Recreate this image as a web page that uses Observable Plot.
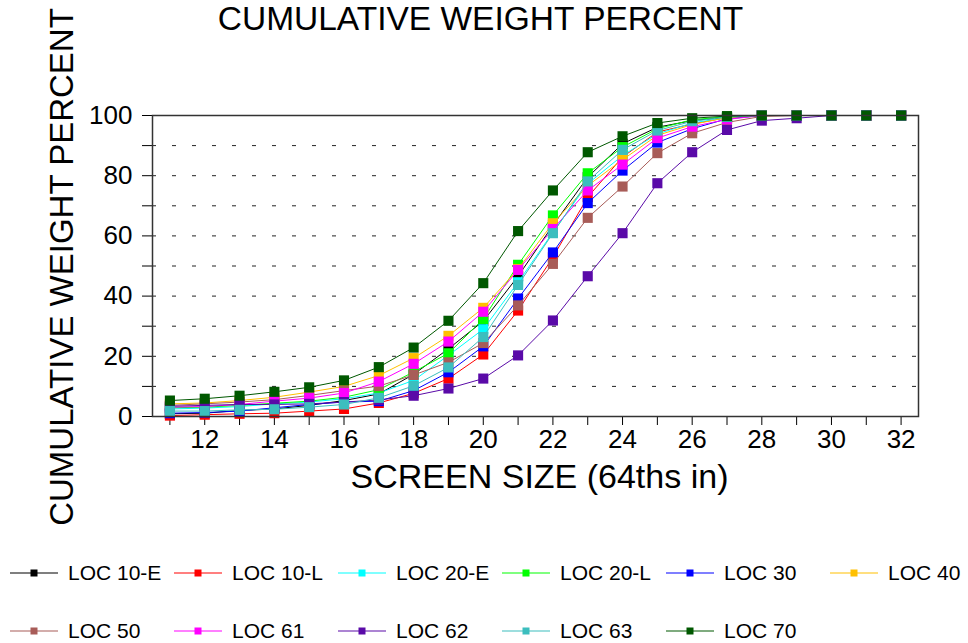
<!DOCTYPE html>
<html>
<head>
<meta charset="utf-8">
<script src="https://cdn.jsdelivr.net/npm/d3@7"></script>
<script src="https://cdn.jsdelivr.net/npm/@observablehq/plot@0.6"></script>
<style>
  html, body { margin: 0; padding: 0; background: white; }
  #wrap { position: relative; width: 968px; height: 643px; overflow: hidden; font-family: "Liberation Sans", Arial, sans-serif; }
  #legend { position: absolute; left: 0; top: 520px; width: 968px; height: 123px; }
  .item { position: absolute; display: flex; align-items: center; font-size: 21px; color: black; white-space: nowrap; }
  .item svg { margin-right: 10px; }
</style>
</head>
<body>
<div id="wrap"><div id="chart"></div><div id="legend"></div></div>
<script>
// ---- data ----
const sizes = [11,12,13,14,15,16,17,18,19,20,21,22,23,24,25,26,27,28,29,30,31,32];
const loc10E = [0.9,1.1,2.0,2.5,3.7,5.3,7.5,14.0,22.5,31.7,46.6,63.5,79.5,90.6,96.1,98.3,99.4,100,100,100,100,100];
const loc10L = [0.3,0.6,0.9,1.1,1.8,2.5,4.5,7.7,12.6,20.6,35.2,52.9,72.9,86.2,94.5,97.2,99.3,100,100,100,100,100];
const loc20E = [2.5,2.8,3.3,4.2,4.8,5.9,7.8,12.0,20.3,29.0,44.6,61.2,77.3,86.7,93.9,97.5,99.3,100,100,100,100,100];
const loc20L = [2.9,3.1,3.7,4.4,5.1,6.4,8.9,14.8,21.0,32.4,50.4,66.8,80.8,89.5,95.6,98.6,99.6,100,100,100,100,100];
const loc30  = [1.1,1.3,1.8,2.9,4.0,4.8,5.1,8.6,14.7,23.3,39.2,54.5,70.9,81.7,91.0,95.6,98.9,100,100,100,100,100];
const loc40  = [4.2,4.5,5.3,6.4,8.1,10.0,13.6,19.4,26.8,36.1,49.0,64.2,76.7,85.3,93.4,97.0,99.3,100,100,100,100,100];
const loc50  = [3.7,4.2,4.8,5.6,7.0,8.6,10.1,13.8,18.0,24.4,36.9,50.7,66.0,76.4,87.5,94.1,97.7,99.7,100,100,100,100];
const loc61  = [3.1,3.3,4.0,5.1,6.1,7.8,11.6,17.5,24.9,34.8,48.7,62.3,75.1,83.7,92.5,96.3,98.7,100,100,100,100,100];
const loc62  = [3.4,3.7,4.0,4.0,4.2,4.8,5.5,6.9,9.3,12.6,20.3,31.9,46.6,60.9,77.5,87.8,95.2,98.3,99.1,100,100,100];
const loc63  = [1.8,1.8,2.2,2.4,3.1,4.0,6.2,10.2,16.3,26.4,43.7,60.9,78.1,88.6,95.0,98.1,99.5,100,100,100,100,100];
const loc70  = [5.3,5.9,6.9,8.2,9.7,12.0,16.4,22.9,31.8,44.3,61.6,75.1,87.8,93.1,97.5,99.1,99.8,100,100,100,100,100];

const seriesNames  = ["LOC 10-E","LOC 10-L","LOC 20-E","LOC 20-L","LOC 30","LOC 40","LOC 50","LOC 61","LOC 62","LOC 63","LOC 70"];
const seriesValues = [loc10E, loc10L, loc20E, loc20L, loc30, loc40, loc50, loc61, loc62, loc63, loc70];
const seriesColors = ["#000000","#ff0000","#00ffff","#00ff00","#0000ff","#ffc000","#a85c58","#ff00ff","#5a0aa8","#3cbebe","#005800"];

const yTicks = [0,10,20,30,40,50,60,70,80,90,100];
const gridVals = [10,20,30,40,50,60,70,80,90];
const titleText = "CUMULATIVE WEIGHT PERCENT";
const xLabel = "SCREEN SIZE (64ths in)";
const yLabel = "CUMULATIVE WEIGHT PERCENT";

// ---- chart ----
const seriesMarks = seriesNames.flatMap((name, i) => {
  const rows = sizes.map((x, j) => ({x, v: seriesValues[i][j], s: name}));
  return [
    Plot.line(rows, {x: "x", y: "v", stroke: seriesColors[i], strokeWidth: 1}),
    Plot.dot(rows, {x: "x", y: "v", symbol: "square", r: 5.7, fill: seriesColors[i], stroke: "none"})
  ];
});

const chart = Plot.plot({
  width: 968, height: 520,
  marginLeft: 152, marginRight: 50, marginTop: 115, marginBottom: 104,
  x: {domain: [10.5, 32.5]},
  y: {domain: [0, 100]},
  style: {fontFamily: "'Liberation Sans', Arial, sans-serif", color: "black", background: "white", overflow: "visible"},
  marks: [
    Plot.ruleY(gridVals, {stroke: "#222", strokeDasharray: "4,16", strokeWidth: 1}),
    Plot.axisY({ticks: yTicks, tickSize: 10, tickPadding: 10, fontSize: 26, tickFormat: d => d % 20 === 0 ? String(d) : "", label: null}),
    Plot.axisX({ticks: sizes, tickSize: 9, tickPadding: 4, fontSize: 26, tickFormat: d => d % 2 === 0 ? String(d) : "", label: null}),
    ...seriesMarks,
    Plot.frame({stroke: "#333", strokeWidth: 1.5}),
    Plot.text([titleText], {text: d => d, frameAnchor: "top", textAnchor: "middle", lineAnchor: "middle", dx: -55, dy: -96, fontSize: 33.5}),
    Plot.text([xLabel], {text: d => d, frameAnchor: "bottom", textAnchor: "middle", lineAnchor: "middle", dx: 4, dy: 61, fontSize: 34}),
    Plot.text([yLabel], {text: d => d, frameAnchor: "left", textAnchor: "middle", lineAnchor: "middle", rotate: -90, dx: -90, dy: 1, fontSize: 33})
  ]
});
document.getElementById("chart").appendChild(chart);

// ---- legend ----
const legend = document.getElementById("legend");
const colX = [10, 174, 338, 502, 666, 830];
seriesNames.forEach((name, i) => {
  const row = Math.floor(i / 6), col = i % 6;
  const div = document.createElement("div");
  div.className = "item";
  div.style.left = colX[col] + "px";
  div.style.top = (row === 0 ? 53 : 111) - 12 + "px";
  div.style.height = "24px";
  const c = seriesColors[i];
  div.innerHTML = `<svg width="48" height="14"><line x1="0" x2="48" y1="7" y2="7" stroke="${c}" stroke-width="1.2"/><rect x="20.5" y="3.5" width="7" height="7" fill="${c}"/></svg><span>${name}</span>`;
  legend.appendChild(div);
});
</script>
</body>
</html>
